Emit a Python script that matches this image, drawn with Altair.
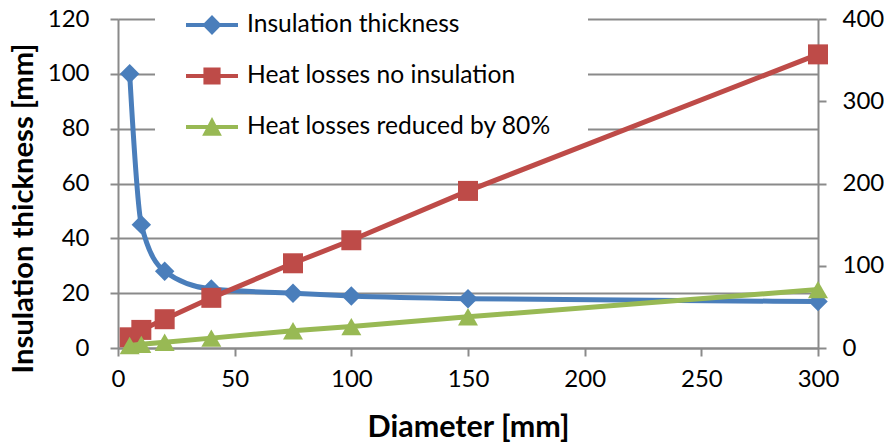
import altair as alt
import pandas as pd

diameter = [5, 10, 20, 40, 75, 100, 150, 300]
insulation_thickness = [100, 45, 28, 21.5, 20, 19, 18, 17]
heat_loss_none = [13, 22, 35, 61, 103, 131, 191, 357]
heat_loss_reduced = [3, 4.5, 7, 12, 21, 26, 38, 71]

series_names = ["Insulation thickness", "Heat losses no insulation", "Heat losses reduced by 80%"]
series_colors = ["#4A7EBB", "#BE4B48", "#98B954"]
x_ticks = [0, 50, 100, 150, 200, 250, 300]
left_ticks = [0, 20, 40, 60, 80, 100, 120]
right_ticks = [0, 100, 200, 300, 400]

# legend symbols: line + marker (custom paths)
legend_paths = [
    "M-1,-0.08 L-0.3,-0.08 L0,-0.38 L0.3,-0.08 L1,-0.08 L1,0.08 L0.3,0.08 L0,0.38 L-0.3,0.08 L-1,0.08 Z",
    "M-1,-0.08 L-0.33,-0.08 L-0.33,-0.33 L0.33,-0.33 L0.33,-0.08 L1,-0.08 L1,0.08 L0.33,0.08 L0.33,0.33 L-0.33,0.33 L-0.33,0.08 L-1,0.08 Z",
    "M-1,-0.08 L-0.16,-0.08 L0,-0.38 L0.16,-0.08 L1,-0.08 L1,0.08 L0.24,0.08 L0.38,0.34 L-0.38,0.34 L-0.24,0.08 L-1,0.08 Z",
]

df = pd.DataFrame({
    "Diameter": diameter,
    "thick": insulation_thickness,
    "loss": heat_loss_none,
    "reduced": heat_loss_reduced,
})
leg_df = pd.DataFrame({"series": series_names})

FONT = "Lato"
GRAY = "#8a8a8a"

x_enc = alt.X(
    "Diameter:Q",
    scale=alt.Scale(domain=[0, 300], nice=False),
    axis=alt.Axis(
        values=x_ticks, title="Diameter [mm]", grid=False,
        domainColor=GRAY, domainWidth=2, tickColor=GRAY, tickWidth=2, tickSize=8,
        labelFont=FONT, labelFontSize=24, labelColor="black", labelPadding=11,
        titleFont=FONT, titleFontSize=30.5, titleFontWeight="bold", titleColor="black",
        titlePadding=21, labelFlush=False,
    ),
)

blue = alt.Chart(df).mark_line(
    color=series_colors[0], strokeWidth=5, interpolate="monotone", strokeCap="round",
    point=alt.OverlayMarkDef(shape="diamond", filled=True, size=380, color=series_colors[0], opacity=1),
).encode(
    x=x_enc,
    y=alt.Y(
        "thick:Q",
        scale=alt.Scale(domain=[0, 120], nice=False),
        axis=alt.Axis(
            values=left_ticks, title="Insulation thickness [mm]", grid=True,
            gridColor=GRAY, gridWidth=2, domainColor=GRAY, domainWidth=2,
            tickColor=GRAY, tickWidth=2, tickSize=8,
            labelFont=FONT, labelFontSize=24, labelColor="black", labelPadding=21,
            titleFont=FONT, titleFontSize=29.2, titleFontWeight="bold", titleColor="black",
            titlePadding=9, titleY=189,
        ),
    ),
)

right_axis = alt.Axis(
    orient="right", values=right_ticks, title=None, grid=False,
    domainColor=GRAY, domainWidth=2, tickColor=GRAY, tickWidth=2, tickSize=8,
    labelFont=FONT, labelFontSize=24, labelColor="black", labelPadding=16,
)
right_scale = alt.Scale(domain=[0, 400], nice=False)

red = alt.Chart(df).mark_line(
    color=series_colors[1], strokeWidth=5, strokeCap="round",
    point=alt.OverlayMarkDef(shape="square", filled=True, size=400, color=series_colors[1], opacity=1),
).encode(x=x_enc, y=alt.Y("loss:Q", scale=right_scale, axis=right_axis))

green = alt.Chart(df).mark_line(
    color=series_colors[2], strokeWidth=5, strokeCap="round",
    point=alt.OverlayMarkDef(shape="triangle-up", filled=True, size=400, color=series_colors[2], opacity=1),
).encode(x=x_enc, y=alt.Y("reduced:Q", scale=right_scale, axis=right_axis))

leg_props = dict(
    orient="none", legendX=37, legendY=-21, title=None, padding=1,
    symbolSize=2704, symbolOffset=30, symbolStrokeWidth=0, symbolOpacity=1,
    labelOffset=9, rowPadding=13, labelFont=FONT, labelFontSize=24.6,
    labelColor="black", labelLimit=600, fillColor="white",
    labelExpr="datum.label + '\u2800\u2800'",
)

legend_layer = alt.Chart(leg_df).mark_point(filled=True, opacity=1).encode(
    color=alt.Color("series:N", scale=alt.Scale(domain=series_names, range=series_colors),
                    legend=alt.Legend(**leg_props)),
    shape=alt.Shape("series:N", scale=alt.Scale(domain=series_names, range=legend_paths),
                    legend=alt.Legend(**leg_props)),
).transform_filter("false")

chart = alt.layer(
    blue,
    alt.layer(red, green, legend_layer),
).resolve_scale(y="independent").properties(
    width=700, height=329,
    padding={"left": 118, "top": 19, "right": 66, "bottom": 94},
    autosize=alt.AutoSizeParams(type="none"),
).configure_view(stroke=None).configure(background="white")

chart.save("out.html", embed_options={"renderer": "svg", "actions": False})
